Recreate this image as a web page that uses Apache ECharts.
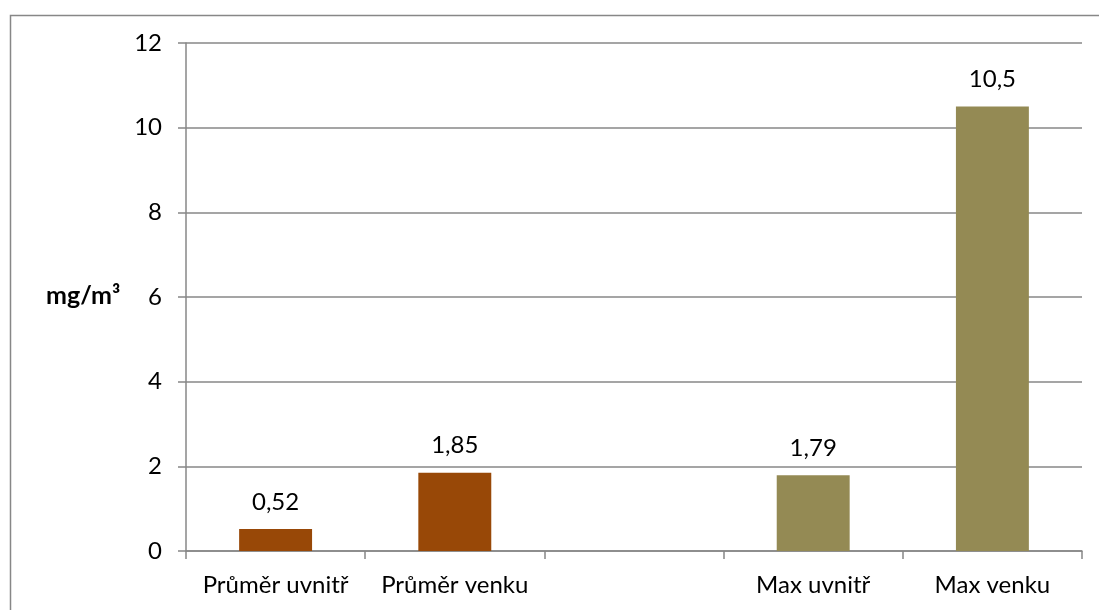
<!DOCTYPE html>
<html>
<head>
<meta charset="utf-8">
<script src="https://cdn.jsdelivr.net/npm/echarts@6/dist/echarts.min.js"></script>
<style>
  html, body { margin: 0; padding: 0; background: #fff; }
  #chart { width: 1099px; height: 610px; }
</style>
</head>
<body>
<div id="chart"></div>
<script>
// Categories on the x axis (the third slot is an intentional gap)
const categories = ['Průměr uvnitř', 'Průměr venku', '', 'Max uvnitř', 'Max venku'];
// Concentrations in mg/m³ (null = no bar)
const values = [0.52, 1.85, null, 1.79, 10.5];
// Bar colour per category: averages brown, maxima olive
const barColors = ['#984807', '#984807', null, '#948A54', '#948A54'];
const yTicks = { min: 0, max: 12, interval: 2 };
const unitLabel = 'mg/m³';

const FONT = 'Lato, "Open Sans", sans-serif';
const AXIS_GRAY = '#878787';
const FS = 24;

const chart = echarts.init(document.getElementById('chart'), null, { renderer: 'canvas' });

const fmt = v => String(v).replace('.', ',');

chart.setOption({
  animation: false,
  backgroundColor: '#ffffff',
  textStyle: { fontFamily: FONT },
  grid: { left: 186, right: 17, top: 43, bottom: 59, containLabel: false },
  graphic: [
    {
      // outer frame; only its top and left edges fall inside the page
      type: 'rect',
      left: 8, top: 13,
      shape: { width: 1200, height: 700 },
      style: { fill: 'none', stroke: AXIS_GRAY, lineWidth: 1.5 },
      silent: true
    },
    {
      type: 'text',
      left: 46, top: 283,
      style: { text: unitLabel, fontFamily: FONT, fontSize: 25, fontWeight: 'bold', fill: '#000' }
    }
  ],
  xAxis: {
    type: 'category',
    data: categories,
    boundaryGap: true,
    axisLine: { lineStyle: { color: AXIS_GRAY, width: 1.5 } },
    axisTick: { show: true, length: 8, lineStyle: { color: AXIS_GRAY, width: 1.5 } },
    axisLabel: { color: '#000', fontSize: FS, fontFamily: FONT, margin: 22, interval: 0 },
    splitLine: { show: false }
  },
  yAxis: {
    type: 'value',
    min: yTicks.min, max: yTicks.max, interval: yTicks.interval,
    axisLine: { show: true, lineStyle: { color: AXIS_GRAY, width: 1.5 } },
    axisTick: { show: true, length: 8, lineStyle: { color: AXIS_GRAY, width: 1.5 } },
    axisLabel: { color: '#000', fontSize: FS, fontFamily: FONT, margin: 24 },
    splitLine: { show: true, lineStyle: { color: AXIS_GRAY, width: 1.5 } }
  },
  series: [{
    type: 'bar',
    barWidth: '40.7%',
    data: values.map((v, i) => v == null ? null : ({ value: v, itemStyle: { color: barColors[i] } })),
    label: {
      show: true,
      position: 'top',
      distance: 15,
      color: '#000',
      fontSize: FS,
      fontFamily: FONT,
      formatter: p => fmt(p.value)
    }
  }]
});
</script>
</body>
</html>
